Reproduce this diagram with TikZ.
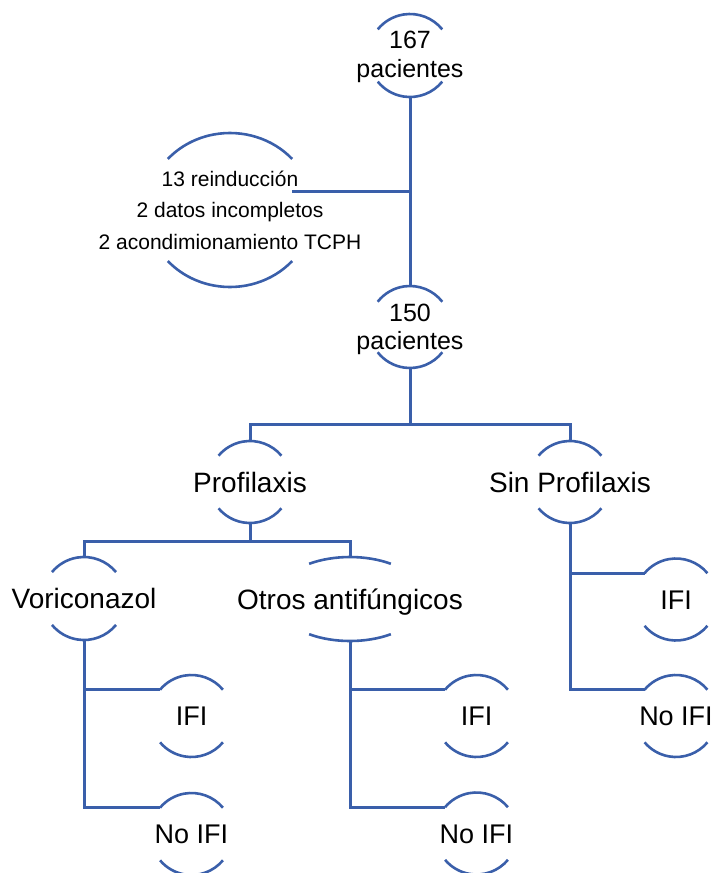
\documentclass[tikz,border=0pt]{standalone}
\usepackage{fontspec}
\setmainfont{Liberation Sans}
\usetikzlibrary{shapes.geometric,calc}
\definecolor{lineblue}{RGB}{58,95,170}
\tikzset{
  conn/.style={draw=lineblue, line width=3pt},
  arcline/.style={draw=lineblue, line width=2.6pt},
  circnode/.style={shape=circle, minimum size=#1, inner sep=0pt, outer sep=0pt},
  ellnode/.style 2 args={shape=ellipse, minimum width=#1, minimum height=#2, inner sep=0pt, outer sep=0pt},
  bigtxt/.style={font=\fontsize{28}{32}\selectfont, text height=20pt, text depth=0pt, inner sep=0pt},
  leaftxt/.style={font=\fontsize{27}{31}\selectfont, text height=19.3pt, text depth=0pt, inner sep=0pt},
  toptxt/.style={font=\fontsize{25}{28.5}\selectfont, align=center, inner sep=0pt},
  smalltxt/.style={font=\fontsize{21}{31.5}\selectfont, align=center, inner sep=0pt}
}
\newcommand\nodearcs[4]{%
  \draw[arcline] ([shift={(#4:#2pt and #3pt)}]#1.center) arc[start angle=#4, end angle=180-#4, x radius=#2pt, y radius=#3pt];
  \draw[arcline] ([shift={(-#4:#2pt and #3pt)}]#1.center) arc[start angle=-#4, end angle=-180+#4, x radius=#2pt, y radius=#3pt];}
\begin{document}
\begin{tikzpicture}[x=1pt,y=1pt]
\useasboundingbox (0,0) rectangle (713,-873);
% nodes
\node[circnode=83pt, label={[toptxt, yshift=-1.5pt]center:167\\pacientes}] (p167) at (410,-55.5) {};
\node[ellnode={166pt}{154pt}, label={[smalltxt]center:13 reinducción\\2 datos incompletos\\2 acondimionamiento TCPH}] (excl) at (230,-210) {};
\node[circnode=82pt, label={[toptxt, yshift=-2.5pt]center:150\\pacientes}] (p150) at (410,-327) {};
\node[circnode=82pt, label={[bigtxt]center:Profilaxis}] (prof) at (250,-482) {};
\node[circnode=82pt, label={[bigtxt]center:Sin Profilaxis}] (sinp) at (570,-482) {};
\node[circnode=83pt, label={[bigtxt]center:Voriconazol}] (vori) at (84,-598.5) {};
\node[ellnode={150pt}{84pt}, label={[bigtxt]center:Otros antifúngicos}] (otros) at (350,-599) {};
\node[circnode=82pt, label={[leaftxt]center:IFI}] (ifiA) at (191.5,-716) {};
\node[circnode=82pt, label={[leaftxt]center:No IFI}] (noA) at (191.5,-834) {};
\node[circnode=82pt, label={[leaftxt]center:IFI}] (ifiB) at (476.5,-716) {};
\node[circnode=82pt, label={[leaftxt]center:No IFI}] (noB) at (476.5,-833.5) {};
\node[circnode=82pt, label={[leaftxt]center:IFI}] (ifiC) at (676,-599.5) {};
\node[circnode=82pt, label={[leaftxt]center:No IFI}] (noC) at (676,-716) {};
% arcs
\nodearcs{p167}{41.5}{41.5}{39}
\nodearcs{excl}{83}{77}{41.5}
\nodearcs{p150}{41}{41}{38}
\nodearcs{prof}{41}{41}{40}
\nodearcs{sinp}{41}{41}{40}
\nodearcs{vori}{41.5}{41.5}{39.5}
\nodearcs{otros}{75}{42}{57}
\nodearcs{ifiA}{41}{41}{40}
\nodearcs{noA}{41}{41}{40}
\nodearcs{ifiB}{41}{41}{40}
\nodearcs{noB}{41}{41}{40}
\nodearcs{ifiC}{41}{41}{40}
\nodearcs{noC}{41}{41}{40}
% connectors
\coordinate (exclend) at (292,-191);
\coordinate (b1) at (410,-424);
\coordinate (b2) at (250,-541);
\draw[conn] (p167.south) -- (p150.north);
\draw[conn] (p167.south |- exclend) -- (exclend);
\draw[conn] (p150.south) -- (b1);
\draw[conn] (prof.north) |- (b1) -| (sinp.north);
\draw[conn] (prof.south) -- (b2);
\draw[conn] (vori.north) |- (b2) -| (otros.north);
\draw[conn] (vori.south) |- (ifiA.140);
\draw[conn] (vori.south) |- (noA.140);
\draw[conn] (otros.south) |- (ifiB.140);
\draw[conn] (otros.south) |- (noB.140);
\draw[conn] (sinp.south) |- (ifiC.140);
\draw[conn] (sinp.south) |- (noC.140);
\end{tikzpicture}
\end{document}
